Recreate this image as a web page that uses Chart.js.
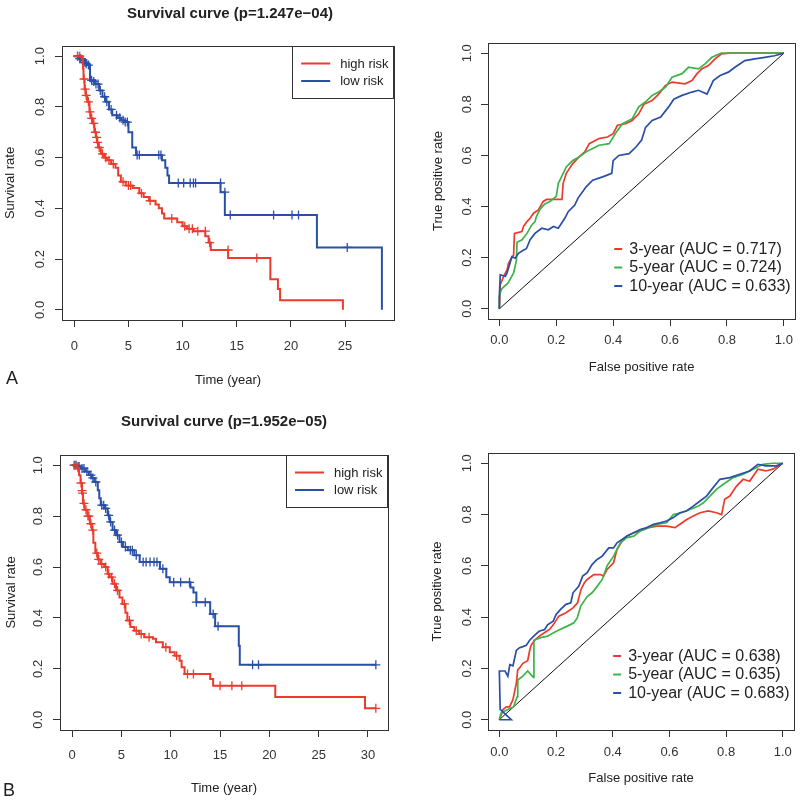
<!DOCTYPE html>
<html>
<head>
<meta charset="utf-8">
<script src="https://cdn.jsdelivr.net/npm/chart.js@4.4.1/dist/chart.umd.min.js"></script>
<style>
  body { margin: 0; background: #fff; }
  #page { position: relative; width: 800px; height: 801px; background: #fff; font-family: "Liberation Sans", Arial, sans-serif; color: #222; }
  canvas { position: absolute; }
  .ttl { position: absolute; font-weight: bold; font-size: 15px; line-height: 18px; transform: translateX(-50%); white-space: nowrap; }
  .tag { position: absolute; font-size: 18px; line-height: 20px; }
</style>
</head>
<body>
<div id="page">
  <canvas id="kmA" width="400" height="400" style="left:0;top:0"></canvas>
  <canvas id="rocA" width="400" height="400" style="left:400px;top:0"></canvas>
  <canvas id="kmB" width="400" height="400" style="left:0;top:400px"></canvas>
  <canvas id="rocB" width="400" height="400" style="left:400px;top:400px"></canvas>
  <div class="ttl" style="left:230px;top:4px">Survival curve (p=1.247e−04)</div>
  <div class="ttl" style="left:224px;top:412px">Survival curve (p=1.952e−05)</div>
  <div class="tag" style="left:6px;top:368px">A</div>
  <div class="tag" style="left:3px;top:780px">B</div>
</div>
<script>
// ---- Kaplan-Meier, cohort A: [time, survival] ----
const highA = [[0,1],[0.7,0.99],[0.8,0.95],[0.85,0.91],[0.95,0.87],[1.05,0.845],[1.2,0.82],[1.4,0.78],[1.5,0.755],[1.7,0.735],[1.85,0.70],[2.0,0.68],[2.1,0.66],[2.2,0.64],[2.45,0.615],[2.75,0.60],[3.05,0.59],[3.4,0.575],[3.8,0.56],[4.05,0.53],[4.3,0.505],[4.75,0.49],[5.4,0.48],[6.0,0.46],[6.4,0.445],[6.9,0.43],[7.5,0.415],[7.8,0.40],[8.1,0.38],[8.3,0.36],[9.5,0.345],[10.0,0.33],[10.4,0.32],[11.0,0.31],[12.1,0.29],[12.4,0.265],[12.6,0.236],[14.2,0.204],[18.1,0.121],[18.8,0.082],[19.0,0.038],[24.8,0]];
const lowA = [[0,1],[0.4,0.99],[0.7,0.985],[1.0,0.975],[1.2,0.965],[1.45,0.905],[1.9,0.89],[2.3,0.865],[2.6,0.84],[2.9,0.82],[3.2,0.79],[3.5,0.767],[4.0,0.757],[4.3,0.747],[4.6,0.74],[5.0,0.70],[5.35,0.64],[5.7,0.61],[8.1,0.59],[8.4,0.56],[8.6,0.53],[8.75,0.50],[13.5,0.464],[13.9,0.374],[22.4,0.246],[28.4,0]];
const censHighA = [[0.3,1],[0.5,1],[0.9,0.91],[1.0,0.87],[1.1,0.845],[1.3,0.82],[1.45,0.78],[1.6,0.755],[1.8,0.735],[1.95,0.70],[2.05,0.68],[2.15,0.66],[2.3,0.64],[2.6,0.615],[2.9,0.60],[3.2,0.59],[3.6,0.575],[4.5,0.505],[5.0,0.49],[5.2,0.49],[6.2,0.46],[7.0,0.43],[9.0,0.36],[10.2,0.33],[10.6,0.32],[10.9,0.32],[11.4,0.31],[12.1,0.31],[12.5,0.265],[14.2,0.236],[16.85,0.204]];
const censLowA = [[0.3,1],[0.5,0.99],[0.6,0.99],[0.8,0.985],[1.0,0.975],[1.1,0.97],[1.3,0.965],[1.6,0.905],[1.8,0.90],[2.0,0.89],[2.2,0.89],[2.4,0.865],[2.8,0.84],[3.0,0.82],[3.4,0.79],[3.9,0.767],[4.2,0.757],[4.5,0.747],[4.7,0.74],[4.9,0.74],[5.8,0.61],[6.0,0.61],[7.8,0.61],[8.0,0.61],[9.6,0.50],[10.1,0.50],[10.7,0.50],[11.0,0.50],[11.2,0.50],[13.5,0.50],[13.9,0.464],[14.4,0.374],[18.4,0.374],[20.1,0.374],[20.7,0.374],[25.2,0.246]];

// ---- Kaplan-Meier, cohort B ----
const highB = [[0,1],[0.5,0.99],[0.7,0.96],[0.85,0.93],[1.0,0.89],[1.1,0.85],[1.25,0.825],[1.55,0.80],[1.8,0.77],[2.0,0.745],[2.15,0.695],[2.35,0.655],[2.6,0.63],[2.9,0.612],[3.25,0.60],[3.6,0.573],[3.8,0.56],[4.1,0.534],[4.45,0.508],[4.8,0.48],[5.1,0.455],[5.4,0.42],[5.6,0.39],[5.9,0.365],[6.3,0.35],[6.8,0.337],[7.3,0.324],[8.2,0.318],[8.5,0.305],[9.2,0.285],[9.9,0.265],[10.4,0.252],[10.9,0.232],[11.1,0.206],[11.4,0.18],[14.0,0.16],[14.3,0.134],[20.6,0.09],[29.7,0.045],[30.8,0.045]];
const lowB = [[0,1],[0.5,0.995],[0.9,0.987],[1.3,0.975],[1.7,0.961],[2.0,0.95],[2.25,0.934],[2.6,0.902],[2.75,0.87],[2.9,0.843],[3.3,0.83],[3.6,0.803],[3.8,0.777],[4.1,0.745],[4.45,0.725],[4.8,0.698],[5.15,0.679],[5.65,0.666],[6.3,0.646],[6.85,0.62],[8.9,0.593],[9.55,0.56],[9.9,0.54],[12.0,0.52],[12.3,0.50],[12.6,0.462],[14.0,0.416],[14.5,0.367],[16.9,0.291],[17.0,0.216],[30.8,0.216]];
const censHighB = [[0.3,1],[0.6,0.99],[0.9,0.93],[1.0,0.9],[1.05,0.89],[1.2,0.85],[1.4,0.825],[1.6,0.8],[1.7,0.8],[1.9,0.77],[2.1,0.745],[2.5,0.655],[2.7,0.63],[3.0,0.612],[3.4,0.6],[3.7,0.573],[4.0,0.56],[4.3,0.534],[4.6,0.508],[5.3,0.455],[5.8,0.39],[6.5,0.35],[7.0,0.337],[7.8,0.324],[9.5,0.285],[10.6,0.252],[11.7,0.18],[12.3,0.18],[15.0,0.134],[16.2,0.134],[17.2,0.134],[30.8,0.045]];
const censLowB = [[0.2,1],[0.4,1],[0.6,0.995],[0.7,0.995],[1.0,0.987],[1.2,0.987],[1.5,0.975],[1.9,0.961],[2.1,0.95],[2.4,0.934],[3.0,0.843],[3.2,0.843],[3.4,0.83],[3.7,0.803],[3.9,0.777],[4.3,0.745],[4.6,0.725],[5.0,0.698],[5.4,0.679],[5.9,0.666],[6.1,0.666],[6.5,0.646],[7.2,0.62],[7.5,0.62],[7.9,0.62],[8.3,0.62],[8.6,0.62],[9.2,0.593],[10.3,0.54],[11.0,0.54],[11.9,0.54],[12.6,0.462],[13.5,0.462],[14.3,0.416],[14.8,0.367],[18.3,0.216],[18.9,0.216],[30.8,0.216]];

// ---- time-dependent ROC: [false positive rate, true positive rate] ----
const rocA3 = [[0,0],[0.003,0.094],[0.015,0.127],[0.027,0.152],[0.032,0.178],[0.042,0.198],[0.05,0.21],[0.053,0.295],[0.079,0.302],[0.085,0.322],[0.097,0.341],[0.108,0.354],[0.12,0.374],[0.137,0.387],[0.154,0.42],[0.166,0.428],[0.22,0.428],[0.224,0.49],[0.235,0.53],[0.258,0.568],[0.28,0.594],[0.30,0.614],[0.316,0.646],[0.35,0.666],[0.38,0.672],[0.40,0.685],[0.415,0.718],[0.444,0.724],[0.467,0.737],[0.49,0.763],[0.508,0.80],[0.537,0.815],[0.56,0.84],[0.584,0.874],[0.607,0.887],[0.653,0.88],[0.677,0.893],[0.694,0.919],[0.712,0.939],[0.735,0.952],[0.758,0.978],[0.78,0.997],[0.81,1.0],[0.9,1.0],[1,1]];
const rocA5 = [[0,0],[0,0.05],[0.005,0.07],[0.01,0.08],[0.03,0.10],[0.04,0.12],[0.05,0.14],[0.06,0.19],[0.062,0.26],[0.08,0.27],[0.097,0.295],[0.115,0.33],[0.125,0.34],[0.13,0.36],[0.143,0.39],[0.16,0.41],[0.178,0.42],[0.20,0.44],[0.207,0.49],[0.22,0.52],[0.235,0.555],[0.258,0.58],[0.28,0.594],[0.305,0.614],[0.328,0.627],[0.35,0.64],[0.386,0.646],[0.41,0.69],[0.433,0.724],[0.467,0.744],[0.49,0.79],[0.514,0.81],[0.537,0.835],[0.56,0.848],[0.584,0.867],[0.607,0.906],[0.642,0.92],[0.665,0.945],[0.70,0.939],[0.723,0.958],[0.747,0.984],[0.78,1.0],[0.9,1.0],[1,1]];
const rocA10 = [[0,0],[0,0.05],[0.003,0.133],[0.021,0.127],[0.027,0.14],[0.044,0.204],[0.056,0.198],[0.067,0.217],[0.085,0.23],[0.095,0.235],[0.108,0.27],[0.125,0.295],[0.149,0.315],[0.172,0.309],[0.19,0.322],[0.207,0.315],[0.23,0.354],[0.242,0.38],[0.265,0.406],[0.276,0.432],[0.305,0.477],[0.328,0.503],[0.363,0.516],[0.395,0.53],[0.40,0.58],[0.42,0.60],[0.456,0.607],[0.48,0.633],[0.50,0.66],[0.514,0.71],[0.537,0.737],[0.567,0.75],[0.595,0.79],[0.613,0.82],[0.642,0.835],[0.677,0.848],[0.70,0.855],[0.73,0.84],[0.752,0.893],[0.776,0.913],[0.805,0.926],[0.828,0.945],[0.863,0.971],[0.898,0.978],[0.933,0.984],[0.967,0.99],[1,1]];
const rocB3 = [[0,0],[0.013,0.04],[0.025,0.05],[0.036,0.05],[0.048,0.078],[0.06,0.143],[0.065,0.195],[0.07,0.2],[0.083,0.22],[0.1,0.23],[0.107,0.27],[0.112,0.29],[0.124,0.31],[0.14,0.325],[0.16,0.34],[0.177,0.352],[0.19,0.37],[0.21,0.404],[0.235,0.417],[0.26,0.436],[0.276,0.456],[0.288,0.508],[0.3,0.534],[0.31,0.547],[0.333,0.566],[0.357,0.566],[0.368,0.56],[0.38,0.586],[0.403,0.612],[0.415,0.664],[0.433,0.697],[0.45,0.716],[0.474,0.729],[0.497,0.736],[0.526,0.749],[0.555,0.755],[0.59,0.755],[0.62,0.749],[0.637,0.762],[0.66,0.78],[0.684,0.794],[0.708,0.807],[0.737,0.814],[0.766,0.807],[0.784,0.80],[0.795,0.86],[0.813,0.872],[0.836,0.91],[0.86,0.9375],[0.883,0.93],[0.912,0.977],[0.94,0.97],[0.965,0.977],[1,1]];
const rocB5 = [[0,0],[0.006,0.026],[0.03,0.04],[0.05,0.05],[0.063,0.09],[0.065,0.155],[0.083,0.17],[0.1,0.19],[0.12,0.165],[0.122,0.31],[0.146,0.32],[0.17,0.326],[0.193,0.34],[0.21,0.35],[0.24,0.365],[0.263,0.378],[0.275,0.397],[0.287,0.443],[0.31,0.48],[0.327,0.495],[0.345,0.52],[0.363,0.547],[0.38,0.6],[0.403,0.638],[0.427,0.69],[0.45,0.71],[0.474,0.716],[0.497,0.736],[0.526,0.749],[0.555,0.762],[0.59,0.768],[0.614,0.8],[0.643,0.807],[0.672,0.82],[0.702,0.833],[0.72,0.846],[0.743,0.872],[0.766,0.898],[0.79,0.918],[0.825,0.944],[0.86,0.957],[0.895,0.977],[0.93,0.996],[0.965,1.0],[1,1]];
const rocB10 = [[0,0],[0.042,0],[0.003,0.04],[0,0.19],[0.02,0.19],[0.03,0.17],[0.037,0.215],[0.048,0.21],[0.06,0.27],[0.07,0.28],[0.083,0.285],[0.095,0.29],[0.107,0.31],[0.125,0.33],[0.14,0.345],[0.16,0.352],[0.17,0.37],[0.19,0.384],[0.20,0.41],[0.216,0.43],[0.235,0.45],[0.252,0.456],[0.26,0.495],[0.28,0.52],[0.294,0.56],[0.31,0.573],[0.327,0.605],[0.345,0.625],[0.363,0.638],[0.386,0.67],[0.403,0.67],[0.415,0.69],[0.433,0.703],[0.45,0.716],[0.474,0.729],[0.497,0.742],[0.52,0.749],[0.544,0.762],[0.567,0.768],[0.59,0.775],[0.614,0.788],[0.637,0.807],[0.66,0.814],[0.684,0.833],[0.708,0.853],[0.731,0.872],[0.754,0.905],[0.778,0.9375],[0.813,0.944],[0.848,0.957],[0.883,0.97],[0.912,0.996],[0.94,0.99],[0.977,0.99],[1,1]];

const kmLabels = ['high risk', 'low risk'];
const rocLabelsA = ['3-year (AUC = 0.717)', '5-year (AUC = 0.724)', '10-year (AUC = 0.633)'];
const rocLabelsB = ['3-year (AUC = 0.638)', '5-year (AUC = 0.635)', '10-year (AUC = 0.683)'];
const timeTicksA = [0, 5, 10, 15, 20, 25];
const timeTicksB = [0, 5, 10, 15, 20, 25, 30];
const rateTicks = [0, 0.2, 0.4, 0.6, 0.8, 1.0];

const RED = '#ec3b2c', BLUE = '#2a4fa6', GREEN = '#3bb449', INK = '#333';
const FONT = '"Liberation Sans", Arial, sans-serif';
Chart.defaults.font.family = FONT;
Chart.defaults.color = INK;

const xy = arr => arr.map(([x, y]) => ({ x, y }));

// R-style frame: full box, rotated y tick labels and an inset legend
const rFrame = {
  id: 'rFrame',
  afterDraw(chart, args, o) {
    const { ctx, chartArea: a, scales } = chart;
    ctx.save();
    ctx.strokeStyle = INK;
    ctx.lineWidth = 1;
    ctx.strokeRect(Math.round(a.left) + 0.5, Math.round(a.top) + 0.5, Math.round(a.right - a.left), Math.round(a.bottom - a.top));

    ctx.fillStyle = INK;
    ctx.font = '13px ' + FONT;
    ctx.textAlign = 'center';
    ctx.textBaseline = 'middle';
    scales.y.ticks.forEach(t => {
      ctx.save();
      ctx.translate(a.left - o.yGap, scales.y.getPixelForValue(t.value));
      ctx.rotate(-Math.PI / 2);
      ctx.fillText(t.value.toFixed(1), 0, 0);
      ctx.restore();
    });

    const lg = o.legend;
    const items = chart.data.datasets.filter(d => d.inLegend);
    const x0 = a.right - lg.right;
    const y0 = lg.fromBottom ? a.bottom - lg.fromBottom : a.top;
    if (lg.boxed) ctx.strokeRect(Math.round(x0) + 0.5, Math.round(y0) + 0.5, lg.w, lg.h);
    ctx.font = lg.size + 'px ' + FONT;
    ctx.textAlign = 'left';
    items.forEach((d, i) => {
      const y = y0 + lg.row0 + i * lg.dy;
      ctx.strokeStyle = d.borderColor;
      ctx.lineWidth = 2;
      ctx.beginPath();
      ctx.moveTo(x0 + lg.seg[0], y);
      ctx.lineTo(x0 + lg.seg[1], y);
      ctx.stroke();
      ctx.fillStyle = '#222';
      ctx.fillText(d.label, x0 + lg.tx, y + 0.5);
    });
    ctx.restore();
  }
};

function panel(id, o) {
  return new Chart(document.getElementById(id), {
    type: 'scatter',
    data: { datasets: o.datasets },
    options: {
      responsive: false,
      animation: false,
      events: [],
      layout: { padding: o.pad },
      plugins: {
        legend: { display: false },
        tooltip: { enabled: false },
        rFrame: { yGap: o.yGap, legend: o.legend }
      },
      scales: {
        x: {
          type: 'linear', min: o.xMin, max: o.xMax,
          afterBuildTicks: s => { s.ticks = o.xTicks.map(v => ({ value: v })); },
          afterFit: s => { s.height = o.xH; },
          grid: { drawOnChartArea: false, tickLength: 7, color: INK },
          border: { display: false },
          ticks: { autoSkip: false, maxRotation: 0, padding: o.xTickPad, color: INK, font: { size: 13 }, callback: o.xFmt },
          title: { display: true, text: o.xTitle, color: '#222', font: { size: 13 }, padding: { top: 0, bottom: o.xTitlePad } }
        },
        y: {
          type: 'linear', min: -0.04, max: 1.04,
          afterBuildTicks: s => { s.ticks = rateTicks.map(v => ({ value: v })); },
          afterFit: s => { s.width = o.yW; },
          grid: { drawOnChartArea: false, tickLength: 7, color: INK },
          border: { display: false },
          ticks: { display: false },
          title: { display: true, text: o.yTitle, color: '#222', font: { size: 13 }, padding: { top: o.yTitlePad, bottom: 0 } }
        }
      }
    },
    plugins: [rFrame]
  });
}

function kmSets(high, low, cHigh, cLow) {
  const step = (lbl, d, c) => ({ label: lbl, inLegend: true, data: xy(d), showLine: true, stepped: true, borderColor: c, borderWidth: 2, pointRadius: 0 });
  const marks = (d, c) => ({ data: xy(d), showLine: false, pointStyle: 'cross', pointRadius: 4.5, pointBorderColor: c, pointBorderWidth: 1.3, borderColor: c });
  return [step(kmLabels[0], high, RED), step(kmLabels[1], low, BLUE), marks(cHigh, RED), marks(cLow, BLUE)];
}

function rocSets(r3, r5, r10, labels) {
  const curve = (lbl, d, c, ord) => ({ label: lbl, inLegend: true, data: xy(d), showLine: true, borderColor: c, borderWidth: 1.7, pointRadius: 0, order: ord });
  return [
    curve(labels[0], r3, RED, 3), curve(labels[1], r5, GREEN, 2), curve(labels[2], r10, BLUE, 1),
    { data: [{ x: 0, y: 0 }, { x: 1, y: 1 }], showLine: true, borderColor: '#111', borderWidth: 1, pointRadius: 0, order: 4 }
  ];
}

const kmRange = arrs => {
  const tMax = Math.max(...arrs.flat().map(p => p[0]));
  return [-0.04 * tMax, 1.04 * tMax];
};

const survLegend = { boxed: true, right: 102, w: 101, h: 52, row0: 17.5, dy: 17.5, seg: [9, 38], tx: 48, size: 13 };
const rocLegend = { boxed: false, right: 181, fromBottom: 70, row0: 0, dy: 18.5, seg: [0, 8], tx: 15, size: 16 };

const rA = kmRange([highA, lowA]);
panel('kmA', {
  datasets: kmSets(highA, lowA, censHighA, censLowA),
  pad: { top: 46, right: 4, left: 0, bottom: 0 }, yW: 62, xH: 80,
  xMin: rA[0], xMax: rA[1], xTicks: timeTicksA, xFmt: v => String(v),
  xTickPad: 12, xTitle: 'Time (year)', xTitlePad: 12, yTitle: 'Survival rate', yTitlePad: 2.5,
  yGap: 22, legend: survLegend
});

panel('rocA', {
  datasets: rocSets(rocA3, rocA5, rocA10, rocLabelsA),
  pad: { top: 43, right: 3, left: 0, bottom: 0 }, yW: 88, xH: 81,
  xMin: -0.04, xMax: 1.04, xTicks: rateTicks, xFmt: v => v.toFixed(1),
  xTickPad: 7, xTitle: 'False positive rate', xTitlePad: 25, yTitle: 'True positive rate', yTitlePad: 31,
  yGap: 21, legend: rocLegend
});

const rB = kmRange([highB, lowB]);
panel('kmB', {
  datasets: kmSets(highB, lowB, censHighB, censLowB),
  pad: { top: 55, right: 12, left: 0, bottom: 0 }, yW: 60, xH: 70,
  xMin: rB[0], xMax: rB[1], xTicks: timeTicksB, xFmt: v => String(v),
  xTickPad: 11, xTitle: 'Time (year)', xTitlePad: 4, yTitle: 'Survival rate', yTitlePad: 4,
  yGap: 22, legend: survLegend
});

panel('rocB', {
  datasets: rocSets(rocB3, rocB5, rocB10, rocLabelsB),
  pad: { top: 53, right: 4, left: 0, bottom: 0 }, yW: 88, xH: 70,
  xMin: -0.04, xMax: 1.04, xTicks: rateTicks, xFmt: v => v.toFixed(1),
  xTickPad: 8, xTitle: 'False positive rate', xTitlePad: 14, yTitle: 'True positive rate', yTitlePad: 30,
  yGap: 21, legend: Object.assign({}, rocLegend, { fromBottom: 74 })
});
</script>
</body>
</html>
